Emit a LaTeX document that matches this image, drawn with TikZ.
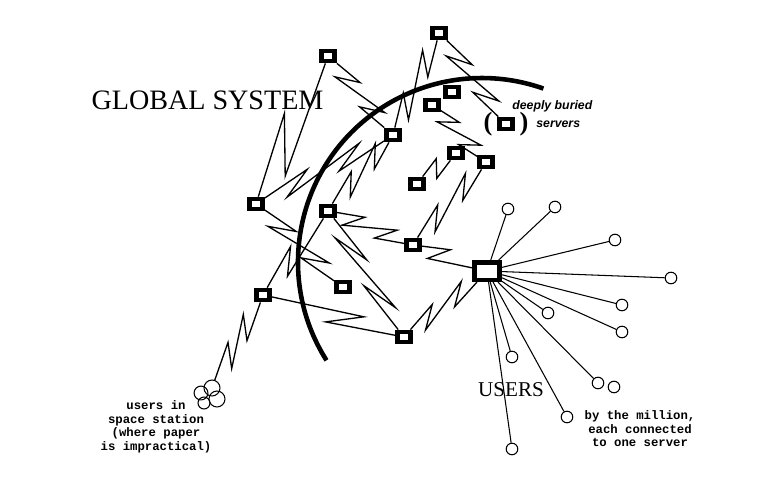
\documentclass[tikz,border=0pt]{standalone}
\usepackage{fontspec}
\setmainfont{Liberation Serif}
\newfontfamily\labelfont{Liberation Mono}
\newfontfamily\notefont{Liberation Sans}
\usetikzlibrary{calc}

\tikzset{
  server/.style={draw, line width=2.6pt, fill=white, inner sep=0pt, minimum width=7.6pt, minimum height=5.8pt},
  hub/.style={draw, line width=2.6pt, fill=white, inner sep=0pt, minimum width=14.5pt, minimum height=10pt},
  user/.style={circle, draw, fill=white, line width=0.6pt, inner sep=0pt, minimum size=6.6pt},
  pod/.style={circle, draw, line width=0.6pt, inner sep=0pt},
  link/.style={line width=0.75pt},
  wire/.style={line width=0.6pt},
  caption/.style={font=\labelfont\bfseries\fontsize{7}{7.7}\selectfont, align=center, inner sep=0pt},
  aside/.style={font=\notefont\bfseries\itshape\fontsize{7}{7}\selectfont, anchor=west, inner sep=0pt},
  bracket/.style={font=\bfseries\fontsize{15}{15}\selectfont, inner sep=0pt},
}

% sideways size of a tooth
\newcommand\zapw{4.5pt}
% lightning link: one tooth at #4 (half depth #1)
\newcommand\zap[4][0.12]{%
  \draw[link] (#2) -- ($(#2)!{#4+#1}!(#3)!\zapw!90:(#3)$)
    -- ($(#2)!{#4-#1}!(#3)!\zapw!-90:(#3)$) -- (#3);}
% same with two teeth
\newcommand\zapp[5][0.1]{%
  \draw[link] (#2) -- ($(#2)!{#4+#1}!(#3)!\zapw!90:(#3)$)
    -- ($(#2)!{#4-#1}!(#3)!\zapw!-90:(#3)$)
    -- ($(#2)!{#5+#1}!(#3)!\zapw!90:(#3)$)
    -- ($(#2)!{#5-#1}!(#3)!\zapw!-90:(#3)$) -- (#3);}

\begin{document}
\begin{tikzpicture}[x=0.02cm, y=-0.02cm]
	\path[use as bounding box, fill=white] (0,0) rectangle (757,490);

	% servers
	\node[server] (s1) at (328,56) {};
	\node[server] (s2) at (439,33) {};
	\node[server] (s3) at (452,92) {};
	\node[server] (s4) at (432,105) {};
	\node[server] (s5) at (393,135) {};
	\node[server] (s6) at (506,124) {};
	\node[server] (s7) at (456,153) {};
	\node[server] (s8) at (486,162) {};
	\node[server] (s9) at (417,184) {};
	\node[server] (s10) at (256,204) {};
	\node[server] (s11) at (328,211) {};
	\node[server] (s12) at (413,245) {};
	\node[server] (s13) at (343,287) {};
	\node[server] (s14) at (263,295) {};
	\node[server] (s15) at (404,337) {};
	\node[hub] (hub) at (487,271) {};

	% space station
	\node[pod, minimum size=7.9pt] (sta1) at (201,393) {};
	\node[pod, minimum size=9.1pt] (sta2) at (212,388) {};
	\node[pod, minimum size=9.1pt] (sta3) at (217,399) {};
	\node[pod, minimum size=6.8pt] (sta4) at (204,403) {};

	% users
	\node[user] (u1) at (508,209) {};
	\node[user] (u2) at (555,207) {};
	\node[user] (u3) at (615,240) {};
	\node[user] (u4) at (671,278) {};
	\node[user] (u5) at (622,305) {};
	\node[user] (u6) at (548,313) {};
	\node[user] (u7) at (622,332) {};
	\node[user] (u8) at (512,357) {};
	\node[user] (u9) at (598,383) {};
	\node[user] (u10) at (614,387) {};
	\node[user] (u11) at (567,417) {};
	\node[user] (u12) at (512,449) {};
	\foreach \u in {u1,u2,u3,u4,u5,u6,u7,u8,u9,u11,u12}
		\draw[wire] (hub) -- (\u);

	% links between servers
	{\renewcommand\zapw{8pt}\zap[0.17]{s10}{s1}{0.4}}
	\zapp{s1}{s5}{0.3}{0.68}
	\zapp{s2}{s5}{0.3}{0.72}
	\zapp{s2}{s6}{0.3}{0.7}
	\zapp{s4}{s8}{0.3}{0.7}
	\zap{s9}{s7}{0.5}
	\zapp{s8}{s12}{0.3}{0.68}
	\zapp{s10}{s5}{0.3}{0.68}
	\zapp{s11}{s5}{0.35}{0.72}
	\zapp{s10}{s13}{0.3}{0.68}
	\zap{s11}{s14}{0.6}
	\zapp{s11}{s12}{0.3}{0.68}
	\zapp[0.12]{s11}{s15}{0.3}{0.68}
	\zap{s12}{hub}{0.35}
	\zapp{s15}{hub}{0.3}{0.65}
	\zap{s14}{s15}{0.58}
	\zapp{s14}{sta2}{0.35}{0.65}

	% boundary of the global system
	\draw[line width=2.6pt] (482,262) ++(147.7:184) arc[start angle=147.7, end angle=289.5, radius=184];

	% labels
	\node[font=\fontsize{16}{16}\selectfont, inner sep=0pt] (global) at (207.5,100) {GLOBAL SYSTEM};
	\node[font=\fontsize{12}{12}\selectfont, inner sep=0pt] (users) at (511,390) {USERS};
	\node[caption] (spacenote) at (156,427) {users in\\space station\\(where paper\\is impractical)};
	\node[caption] (millionnote) at (640,429) {by the million,\\each connected\\to one server};
	\node[aside] (buriednote) at (512,106) {deeply buried};
	\node[aside] (servernote) at (536,124) {servers};
	\node[bracket] (lparen) at (488,124) {(};
	\node[bracket] (rparen) at (524,124) {)};
\end{tikzpicture}
\end{document}
